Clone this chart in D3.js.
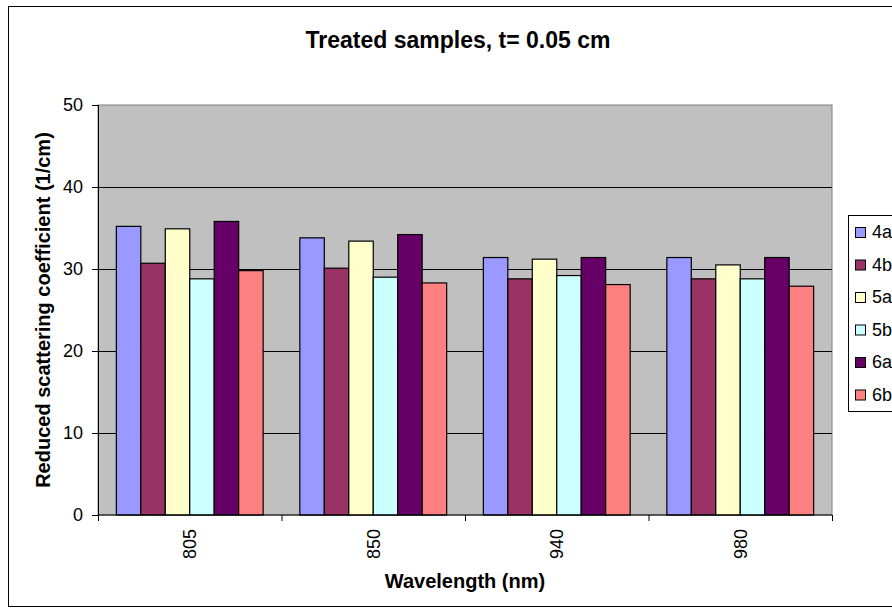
<!DOCTYPE html>
<html>
<head>
<meta charset="utf-8">
<script src="https://cdn.jsdelivr.net/npm/d3@7"></script>
<style>
  body { margin: 0; background: #fff; }
  svg { font-family: "Liberation Sans", Arial, sans-serif; }
</style>
</head>
<body>
<svg width="892" height="612"></svg>
<script>
var wavelengths = ["805", "850", "940", "980"];
var samples = ["4a", "4b", "5a", "5b", "6a", "6b"];
var colors = ["#9999ff", "#993366", "#ffffcc", "#ccffff", "#660066", "#ff8080"];
var s4a = [35.2, 33.8, 31.4, 31.4];
var s4b = [30.7, 30.1, 28.8, 28.8];
var s5a = [34.9, 33.4, 31.2, 30.5];
var s5b = [28.8, 29.0, 29.2, 28.8];
var s6a = [35.8, 34.2, 31.4, 31.4];
var s6b = [29.8, 28.3, 28.1, 27.9];
var yTicks = [0, 10, 20, 30, 40, 50];

var series = [s4a, s4b, s5a, s5b, s6a, s6b];
var data = wavelengths.map(function(w, i) {
  var d = {w: w};
  samples.forEach(function(s, j) { d[s] = series[j][i]; });
  return d;
});

var svg = d3.select("svg"),
    margin = {top: 105, left: 98},
    width = 734,
    height = 410,
    g = svg.append("g").attr("transform", "translate(" + margin.left + "," + margin.top + ")");

// outer chart border (runs off the right edge)
svg.append("rect")
    .attr("x", 8.5).attr("y", 6.5)
    .attr("width", 900).attr("height", 600)
    .attr("fill", "none").attr("stroke", "#000").attr("stroke-width", 1);

var x0 = d3.scaleBand().domain(wavelengths).range([0, width]).paddingInner(0).paddingOuter(0);
var barW = x0.bandwidth() / 7.5;
var x1 = d3.scaleBand().domain(samples).range([barW * 0.75, barW * 6.75]);
var y = d3.scaleLinear().domain([0, 50]).range([height, 0]);
var z = d3.scaleOrdinal().domain(samples).range(colors);

g.append("rect")
    .attr("width", width).attr("height", height)
    .attr("fill", "#c0c0c0").attr("stroke", "#808080");

g.append("g")
  .selectAll("line")
  .data(yTicks.slice(1, -1))
  .enter().append("line")
    .attr("x1", 0).attr("x2", width)
    .attr("y1", function(d) { return Math.round(y(d)) + 0.5; })
    .attr("y2", function(d) { return Math.round(y(d)) + 0.5; })
    .attr("stroke", "#000");

g.append("g")
  .selectAll("g")
  .data(data)
  .enter().append("g")
    .attr("transform", function(d) { return "translate(" + x0(d.w) + ",0)"; })
  .selectAll("rect")
  .data(function(d) { return samples.map(function(s) { return {key: s, value: d[s]}; }); })
  .enter().append("rect")
    .attr("x", function(d) { return x1(d.key); })
    .attr("y", function(d) { return y(d.value); })
    .attr("width", x1.bandwidth())
    .attr("height", function(d) { return height - y(d.value); })
    .attr("fill", function(d) { return z(d.key); })
    .attr("stroke", "#000")
    .attr("stroke-width", 1.2);

var yAxis = g.append("g")
    .call(d3.axisLeft(y).tickValues(yTicks).tickSize(6).tickPadding(9));
yAxis.selectAll("text").attr("font-size", 18).attr("fill", "#000").attr("font-family", "Liberation Sans, Arial, sans-serif");
yAxis.select(".domain").attr("stroke", "#000");

var xAxis = g.append("g")
    .attr("transform", "translate(0," + height + ")")
    .call(d3.axisBottom(x0).tickSize(0).tickPadding(0));
xAxis.select(".domain").attr("d", "M0.5,0H" + width);
xAxis.selectAll("text")
    .attr("font-size", 18).attr("fill", "#000")
    .attr("font-family", "Liberation Sans, Arial, sans-serif")
    .attr("transform", "rotate(-90)")
    .attr("text-anchor", "end")
    .attr("x", -14).attr("y", 0).attr("dy", "0.35em");
g.append("g")
  .selectAll("line")
  .data(d3.range(wavelengths.length + 1))
  .enter().append("line")
    .attr("x1", function(i) { return i * x0.bandwidth() + 0.5; })
    .attr("x2", function(i) { return i * x0.bandwidth() + 0.5; })
    .attr("y1", height).attr("y2", height + 6)
    .attr("stroke", "#000");

svg.append("text")
    .attr("x", 458).attr("y", 48)
    .attr("text-anchor", "middle")
    .attr("font-size", 23).attr("font-weight", "bold")
    .text("Treated samples, t= 0.05 cm");

svg.append("text")
    .attr("x", 465).attr("y", 588)
    .attr("text-anchor", "middle")
    .attr("font-size", 20).attr("font-weight", "bold")
    .text("Wavelength (nm)");

svg.append("text")
    .attr("transform", "translate(50," + (margin.top + height / 2) + ") rotate(-90)")
    .attr("text-anchor", "middle")
    .attr("font-size", 20).attr("font-weight", "bold")
    .text("Reduced scattering coefficient (1/cm)");

var legend = svg.append("g").attr("transform", "translate(848,215)");
legend.append("rect")
    .attr("x", 0.5).attr("y", 0.5)
    .attr("width", 60).attr("height", 196)
    .attr("fill", "#fff").attr("stroke", "#000");
var item = legend.selectAll(".item")
  .data(samples)
  .enter().append("g")
    .attr("class", "item")
    .attr("transform", function(d, i) { return "translate(0," + (17 + i * 32.5) + ")"; });
item.append("rect")
    .attr("x", 7.5).attr("y", -4.5)
    .attr("width", 10).attr("height", 10)
    .attr("fill", function(d) { return z(d); })
    .attr("stroke", "#000");
item.append("text")
    .attr("x", 24).attr("dy", "0.36em")
    .attr("font-size", 18)
    .text(function(d) { return d; });
</script>
</body>
</html>
